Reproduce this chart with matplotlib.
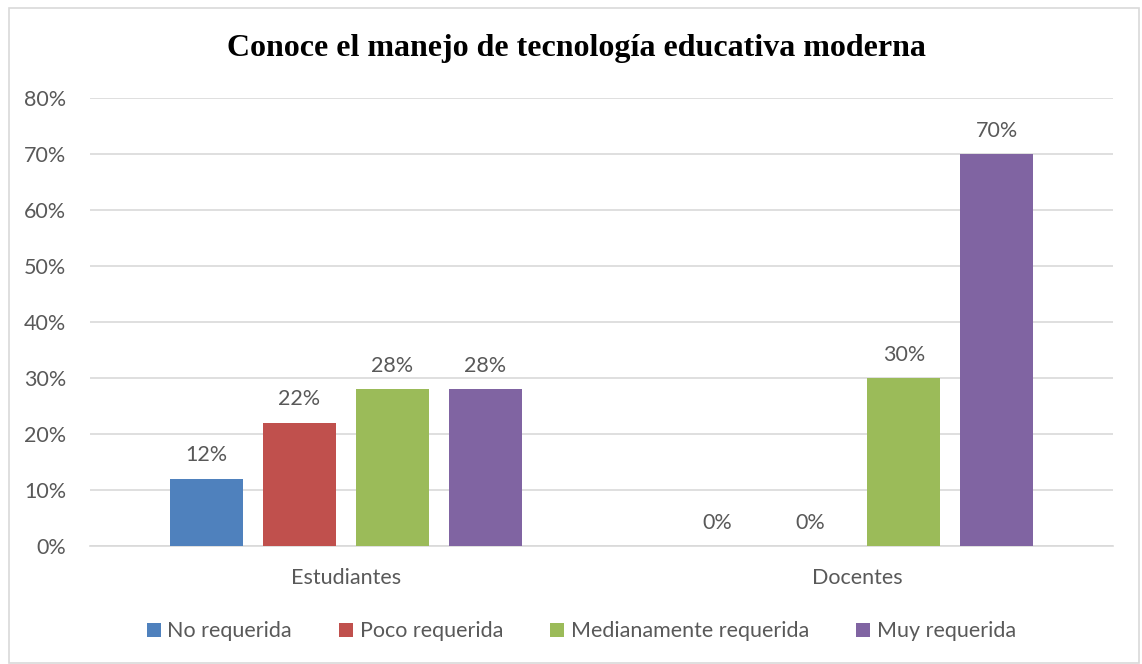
import matplotlib.pyplot as plt
import numpy as np
from matplotlib.patches import Rectangle

categories = ["Estudiantes", "Docentes"]
series_names = ["No requerida", "Poco requerida", "Medianamente requerida", "Muy requerida"]
values = [
    [12, 0],   # No requerida
    [22, 0],   # Poco requerida
    [28, 30],  # Medianamente requerida
    [28, 70],  # Muy requerida
]
colors = ["#4F81BD", "#C0504D", "#9BBB59", "#8064A2"]
yticks = [0, 10, 20, 30, 40, 50, 60, 70, 80]

txt_color = "#595959"
font = "Lato"
fs = 15.5

fig = plt.figure(figsize=(11.42, 6.64), dpi=100)
ax = fig.add_axes([0.0788, 0.1777, 0.8958, 0.6747])

# chart border
fig.patches.append(Rectangle((9 / 1142, 0.002), 1130 / 1142, 1 - 9 / 664, transform=fig.transFigure,
                             fill=False, edgecolor="#D9D9D9", linewidth=1.2))

x = np.arange(len(categories))
width = 0.143
step = 0.182
for i, (name, vals) in enumerate(zip(series_names, values)):
    pos = x + (i - 1.5) * step
    bars = ax.bar(pos, vals, width, color=colors[i], label=name, zorder=3)
    for p, v in zip(pos, vals):
        ax.text(p, v + 2.4, f"{v}%", ha="center", va="bottom", fontsize=fs,
                color=txt_color, family=font)

ax.set_xlim(-0.5, 1.5)
ax.set_ylim(0, 80)
ax.set_yticks(yticks)
ax.set_yticklabels([f"{t}%" for t in yticks], fontsize=fs, color=txt_color, family=font)
ax.set_xticks(x)
ax.set_xticklabels(categories, fontsize=fs, color=txt_color, family=font)
ax.tick_params(axis="both", length=0)
ax.tick_params(axis="y", pad=17)
ax.tick_params(axis="x", pad=16)
ax.grid(axis="y", color="#D9D9D9", linewidth=1.2, zorder=0)
for s in ["top", "right", "left"]:
    ax.spines[s].set_visible(False)
ax.spines["bottom"].set_color("#D9D9D9")
ax.spines["bottom"].set_linewidth(1.2)

fig.text(0.505, 0.927, "Conoce el manejo de tecnología educativa moderna", ha="center", va="center",
         fontsize=23, fontweight="bold", family="Liberation Serif")

fig.legend(loc="center", bbox_to_anchor=(0.509, 0.049), ncol=4, frameon=False,
           prop={"family": font, "size": fs}, labelcolor=txt_color,
           handlelength=0.65, handleheight=0.65, handletextpad=0.3, columnspacing=2.2)

fig.savefig("out.png", dpi=100)
